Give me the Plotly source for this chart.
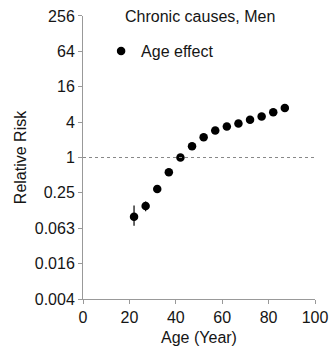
import plotly.graph_objects as go

ages = [22, 27, 32, 37, 42, 47, 52, 57, 62, 67, 72, 77, 82, 87]
risk = [0.098, 0.149, 0.29, 0.56, 1.0, 1.56, 2.22, 2.88, 3.37, 3.79, 4.38, 4.98, 5.91, 6.93]
upper = [0.153, 0.178, 0.31, 0.59, 1.02, 1.62, 2.30, 2.97, 3.46, 3.89, 4.50, 5.12, 6.10, 7.40]
lower = [0.069, 0.122, 0.27, 0.53, 0.98, 1.50, 2.15, 2.80, 3.28, 3.69, 4.27, 4.85, 5.73, 6.50]

ytick_vals = [4**k for k in range(-4, 5)]
ytick_text = ["0.004", "0.016", "0.063", "0.25", "1", "4", "16", "64", "256"]
xtick_vals = [0, 20, 40, 60, 80, 100]

font = "Liberation Sans, Arial, sans-serif"

fig = go.Figure()
fig.add_trace(go.Scatter(
    x=ages, y=risk, mode="markers", name="Age effect",
    marker=dict(color="black", size=8.5),
    error_y=dict(type="data", symmetric=False,
                 array=[u - r for u, r in zip(upper, risk)],
                 arrayminus=[r - l for r, l in zip(risk, lower)],
                 color="black", thickness=1.2, width=0),
))
fig.add_hline(y=1, line=dict(color="#888888", width=1, dash="dot"))

fig.update_layout(
    width=331, height=352,
    margin=dict(l=83, r=16, t=16, b=53, autoexpand=False),
    paper_bgcolor="white", plot_bgcolor="white",
    font=dict(family=font, size=16, color="#151515"),
    showlegend=True,
    legend=dict(x=0.078, y=0.876, xanchor="left", yanchor="middle",
                bgcolor="rgba(0,0,0,0)", font=dict(size=16), itemwidth=30,
                borderwidth=0),
    xaxis=dict(range=[0, 100], tickvals=xtick_vals, showgrid=False, zeroline=False,
               showline=True, linecolor="#999999", linewidth=1, automargin=False,
               ticks="outside", ticklen=4, tickcolor="#999999",
               title=dict(text="Age (Year)", font=dict(size=16), standoff=6)),
    yaxis=dict(type="log", range=[-2.408, 2.408], tickvals=ytick_vals, ticktext=ytick_text,
               showgrid=False, zeroline=False, automargin=False,
               showline=True, linecolor="#999999", linewidth=1,
               ticks="outside", ticklen=4, tickcolor="#999999",
               title=dict(text="Relative Risk", font=dict(size=16), standoff=4)),
    annotations=[dict(text="Chronic causes, Men", xref="paper", yref="paper",
                      x=0.504, y=1.0, xanchor="center", yanchor="middle",
                      showarrow=False, font=dict(size=16))],
)

fig.write_html("out.html", config={"displayModeBar": False},
               post_script="document.body.style.margin='0';document.body.style.overflow='hidden';")
